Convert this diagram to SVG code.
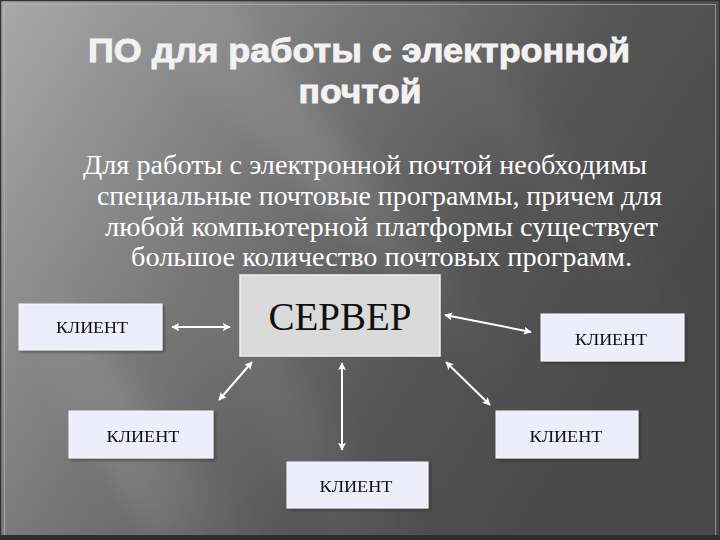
<svg xmlns="http://www.w3.org/2000/svg" width="720" height="540" viewBox="0 0 720 540">
<defs>
<linearGradient id="bg" gradientUnits="userSpaceOnUse" x1="0" y1="0" x2="620" y2="380">
<stop offset="0" stop-color="#a9a9a9"/>
<stop offset="0.45" stop-color="#747474"/>
<stop offset="0.75" stop-color="#545454"/>
<stop offset="1" stop-color="#4a4a4a"/>
</linearGradient>
<linearGradient id="streak" gradientUnits="objectBoundingBox" x1="0" y1="0" x2="1" y2="0">
<stop offset="0" stop-color="#ffffff" stop-opacity="0"/>
<stop offset="0.5" stop-color="#ffffff" stop-opacity="0.1"/>
<stop offset="1" stop-color="#ffffff" stop-opacity="0"/>
</linearGradient>
<filter id="blur" x="-20%" y="-20%" width="140%" height="140%">
<feGaussianBlur stdDeviation="12"/>
</filter>
<marker id="ah" viewBox="0 0 10 10" refX="9" refY="5" markerWidth="4" markerHeight="4" orient="auto-start-reverse" markerUnits="strokeWidth">
<path d="M0,0 L10,5 L0,10 L2,5 Z" fill="#ffffff"/>
</marker>
<filter id="sh" x="-10%" y="-10%" width="130%" height="130%">
<feDropShadow dx="2" dy="2" stdDeviation="1" flood-color="#222" flood-opacity="0.45"/>
</filter>
</defs>
<style>
.title{font-family:"Liberation Sans",Arial,sans-serif;font-weight:bold;font-size:34px;fill:#f2f2f2;stroke:#f2f2f2;stroke-width:0.9;text-anchor:middle}
.body{font-family:"Liberation Serif","Times New Roman",serif;font-size:27px;fill:#ffffff}
.client rect{fill:#eeeefb;stroke:#f8f8ff;stroke-width:1}
.client text{font-family:"Liberation Serif","Times New Roman",serif;font-size:17px;fill:#111;text-anchor:middle}
.conn line{stroke:#ffffff;stroke-width:2;marker-start:url(#ah);marker-end:url(#ah)}
</style>
<rect x="0" y="0" width="720" height="540" fill="url(#bg)"/>
<g filter="url(#blur)">
<polygon points="120,0 230,0 520,360 470,360" fill="url(#streak)"/>
<polygon points="0,300 60,300 260,540 150,540" fill="url(#streak)"/>
<polygon points="180,300 240,300 420,540 330,540" fill="url(#streak)" opacity="0.6"/>
<polygon points="380,0 440,0 700,320 640,320" fill="url(#streak)" opacity="0.4"/>
</g>
<rect x="0.5" y="0.5" width="719" height="539" fill="none" stroke="#333" stroke-width="1.5"/>
<rect x="4.5" y="4.5" width="711" height="531" fill="none" stroke="#bdbdbd" stroke-width="1" opacity="0.6"/>
<rect x="0" y="535" width="720" height="5" fill="#2e2e2e"/>
<g id="title">
<text class="title" x="359" y="62" textLength="542" lengthAdjust="spacingAndGlyphs">ПО для работы с электронной</text>
<text class="title" x="360" y="103" textLength="123" lengthAdjust="spacingAndGlyphs">почтой</text>
</g>
<g id="body">
<text class="body" x="83" y="174" textLength="564" lengthAdjust="spacingAndGlyphs">Для работы с электронной почтой необходимы</text>
<text class="body" x="97" y="205" textLength="565" lengthAdjust="spacingAndGlyphs">специальные почтовые программы, причем для</text>
<text class="body" x="105" y="236" textLength="553" lengthAdjust="spacingAndGlyphs">любой компьютерной платформы существует</text>
<text class="body" x="131" y="266" textLength="501" lengthAdjust="spacingAndGlyphs">большое количество почтовых программ.</text>
</g>
<g id="server">
<rect x="240" y="275" width="200" height="81" fill="#dadada" stroke="#f0f0f0" stroke-width="1.5"/>
<text x="340" y="330" font-family="'Liberation Serif','Times New Roman',serif" font-size="40" fill="#111" text-anchor="middle" textLength="143" lengthAdjust="spacingAndGlyphs">СЕРВЕР</text>
</g>
<g id="client-left" class="client" filter="url(#sh)">
<rect x="19" y="304" width="143" height="46"/>
<text x="92" y="333" textLength="72" lengthAdjust="spacingAndGlyphs">КЛИЕНТ</text>
</g>
<g id="client-right" class="client" filter="url(#sh)">
<rect x="541" y="314" width="143" height="47"/>
<text x="611" y="345" textLength="72" lengthAdjust="spacingAndGlyphs">КЛИЕНТ</text>
</g>
<g id="client-bottom-left" class="client" filter="url(#sh)">
<rect x="69" y="411" width="144" height="47"/>
<text x="143" y="442" textLength="73" lengthAdjust="spacingAndGlyphs">КЛИЕНТ</text>
</g>
<g id="client-bottom-middle" class="client" filter="url(#sh)">
<rect x="287" y="462" width="141" height="46"/>
<text x="356" y="492" textLength="73" lengthAdjust="spacingAndGlyphs">КЛИЕНТ</text>
</g>
<g id="client-bottom-right" class="client" filter="url(#sh)">
<rect x="496" y="411" width="142" height="47"/>
<text x="566" y="442" textLength="73" lengthAdjust="spacingAndGlyphs">КЛИЕНТ</text>
</g>
<g id="connectors" class="conn">
<line x1="172" y1="327" x2="230" y2="327"/>
<line x1="445" y1="315" x2="531" y2="332"/>
<line x1="252" y1="362" x2="219" y2="400"/>
<line x1="342" y1="363" x2="342" y2="450"/>
<line x1="446" y1="362" x2="490" y2="405"/>
</g>
</svg>
